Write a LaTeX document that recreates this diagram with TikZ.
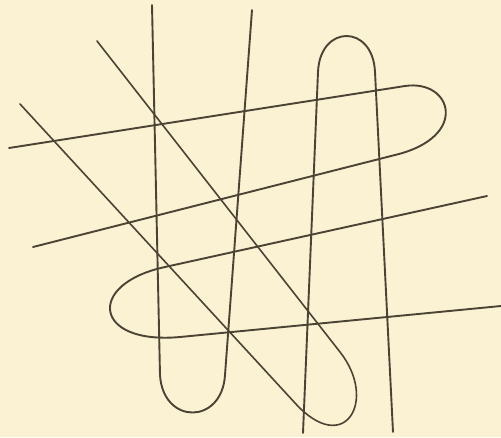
\documentclass[tikz,border=0pt]{standalone}
\definecolor{paper}{HTML}{FAF2D3}
\definecolor{ink}{HTML}{4B4333}
\begin{document}
\begin{tikzpicture}[x=1pt,y=-1pt,
  wire/.style={draw=ink, line width=1.9pt, line cap=round, line join=round},
  thinwire/.style={draw=ink, line width=1.6pt, line cap=round, line join=round}]
\fill[paper] (0,0) rectangle (501,437);
\useasboundingbox (0,0) rectangle (501,437);
% Loop A: vertical U open at top
\coordinate (a1) at (152,5);
\coordinate (a2) at (160,375);
\coordinate (a3) at (225,375);
\coordinate (a4) at (252,10);
\draw[wire] (a1) -- (a2) .. controls (163,425) and (222,425) .. (a3) -- (a4);
% Loop B: inverted U open at bottom
\coordinate (b1) at (303,433);
\coordinate (b2) at (318,72);
\coordinate (b3) at (375,72);
\coordinate (b4) at (393,432);
\draw[wire] (b1) -- (b2) .. controls (320,24) and (373,24) .. (b3) -- (b4);
% Loop C: horizontal loop pointing right
\coordinate (c1) at (9,148);
\coordinate (c2) at (405,86);
\coordinate (c3) at (395,155);
\coordinate (c4) at (33,247);
\draw[wire] (c1) -- (c2) .. controls (452,79) and (470,137) .. (c3) -- (c4);
% Loop D: horizontal loop pointing left
\coordinate (d1) at (487,196);
\coordinate (d2) at (165,267);
\coordinate (d3) at (180,337);
\coordinate (d4) at (501,306);
\draw[wire] (d1) -- (d2) .. controls (86,284) and (93,345) .. (d3) -- (d4);
% Loop E: diagonal loop
\coordinate (e1) at (20,104);
\coordinate (e2) at (295,403);
\coordinate (e3) at (340,352);
\coordinate (e4) at (97,41);
\draw[thinwire] (e1) -- (e2) .. controls (345,458) and (378,400) .. (e3) -- (e4);
\end{tikzpicture}
\end{document}
